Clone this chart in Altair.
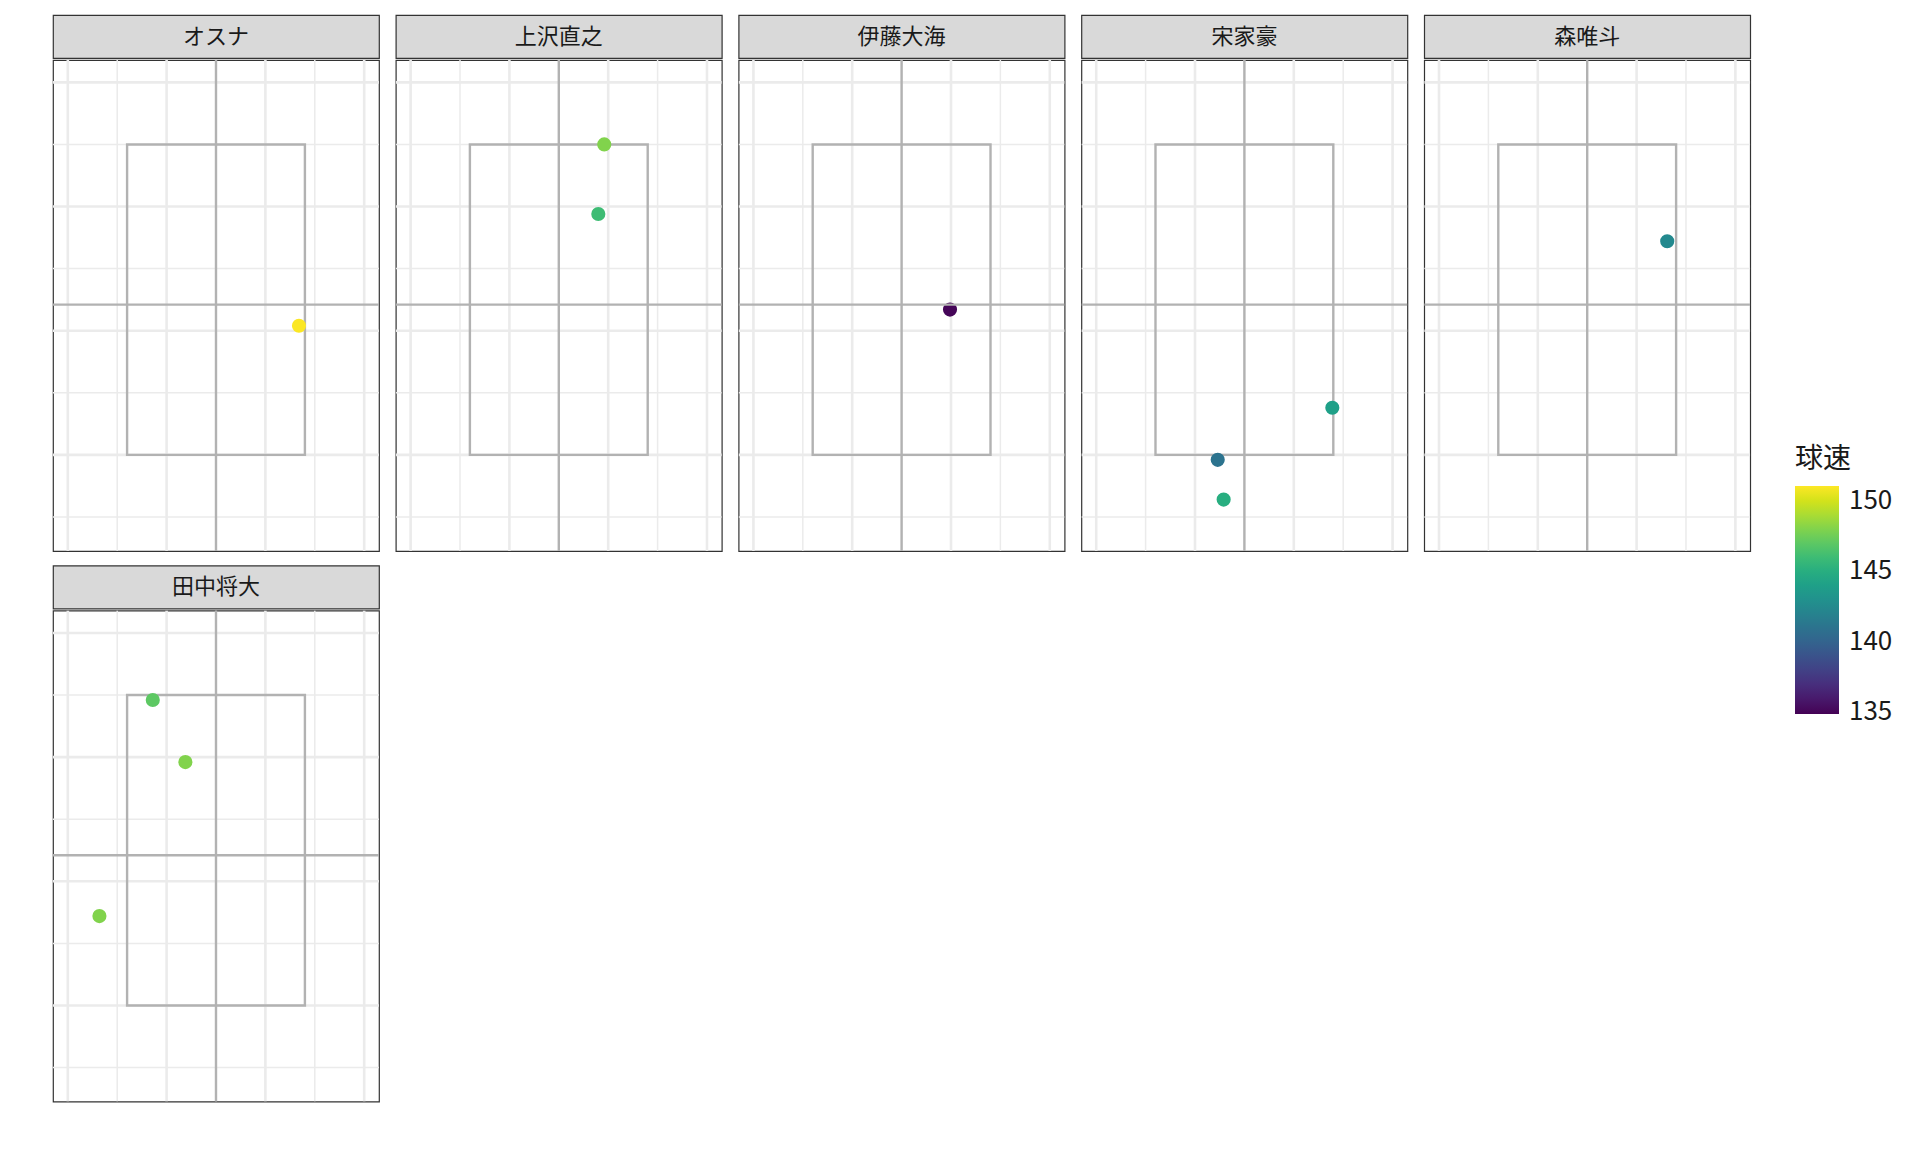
import altair as alt
import pandas as pd

FONT = "Noto Sans CJK JP"

# ---- data ----
pitchers = ["オスナ", "上沢直之", "伊藤大海", "宋家豪", "森唯斗", "田中将大"]

pt_pitcher = ["オスナ", "上沢直之", "上沢直之", "伊藤大海", "宋家豪", "宋家豪", "宋家豪",
              "森唯斗", "田中将大", "田中将大", "田中将大"]
pt_x = [0.84, 0.46, 0.40, 0.49, 0.89, -0.27, -0.21, 0.81, -0.64, -0.31, -1.18]
pt_y = [2.04, 3.50, 2.94, 2.17, 1.38, 0.96, 0.64, 2.72, 3.46, 2.96, 1.72]
pt_speed = [151, 148, 146, 135, 144, 141, 145, 142.5, 147, 148, 148]

x_major = [-1.5, -0.5, 0.5, 1.5]
x_minor = [-1.0, 0.0, 1.0]
y_major = [1.0, 2.0, 3.0, 4.0]
y_minor = [0.5, 1.5, 2.5, 3.5]

zone_x1 = [-0.9]
zone_x2 = [0.9]
zone_y1 = [1.0]
zone_y2 = [3.5]
center_x = [0.0]
center_y = [2.21]

x_domain = [-1.65, 1.65]
y_domain = [0.226, 4.18]
speed_domain = [134.85, 151.05]
speed_ticks = [135, 140, 145, 150]

W = 326
PH = 491
SH = 43

points_df = pd.DataFrame({"pitcher": pt_pitcher, "x": pt_x, "y": pt_y, "球速": pt_speed})
zone_df = pd.DataFrame({"x1": zone_x1, "x2": zone_x2, "y1": zone_y1, "y2": zone_y2})

xs = alt.Scale(domain=x_domain, nice=False, zero=False)
ys = alt.Scale(domain=y_domain, nice=False, zero=False)

GRID = "#EBEBEB"
ZONE = "#B2B2B2"


def vrules(vals, width, color):
    return alt.Chart(pd.DataFrame({"v": vals})).mark_rule(
        color=color, strokeWidth=width, clip=True
    ).encode(x=alt.X("v:Q", scale=xs, axis=None))


def hrules(vals, width, color):
    return alt.Chart(pd.DataFrame({"v": vals})).mark_rule(
        color=color, strokeWidth=width, clip=True
    ).encode(y=alt.Y("v:Q", scale=ys, axis=None))


def panel(name):
    sub = points_df[points_df["pitcher"] == name]
    zone = alt.Chart(zone_df).mark_rect(
        fillOpacity=0, stroke=ZONE, strokeWidth=2.4, clip=True
    ).encode(
        x=alt.X("x1:Q", scale=xs, axis=None),
        x2="x2:Q",
        y=alt.Y("y1:Q", scale=ys, axis=None),
        y2="y2:Q",
    )
    pts = alt.Chart(sub).mark_circle(size=200, opacity=1, clip=True).encode(
        x=alt.X("x:Q", scale=xs, axis=None),
        y=alt.Y("y:Q", scale=ys, axis=None),
        color=alt.Color(
            "球速:Q",
            scale=alt.Scale(scheme="viridis", domain=speed_domain, nice=False, zero=False),
            legend=alt.Legend(
                title="球速",
                orient="none",
                legendX=1742,
                legendY=431,
                values=speed_ticks,
                gradientLength=228,
                gradientThickness=44,
                gradientStrokeWidth=0,
                titleFontSize=28,
                titleFontWeight="normal",
                titleColor="#1a1a1a",
                titleFont=FONT,
                titlePadding=12,
                labelFontSize=26,
                labelColor="#1a1a1a",
                labelFont=FONT,
                labelOffset=10,
                labelOverlap=False,
            ),
        ),
    )
    layer = alt.layer(
        vrules(x_minor, 1.5, GRID),
        vrules(x_major, 2.6, GRID),
        hrules(y_minor, 1.5, GRID),
        hrules(y_major, 2.6, GRID),
        zone,
        pts,
        vrules(center_x, 2.4, ZONE),
        hrules(center_y, 2.4, ZONE),
    ).properties(width=W, height=PH)

    strip = alt.Chart(pd.DataFrame({"name": [name]})).mark_text(
        font=FONT, fontSize=22, color="#1a1a1a"
    ).encode(
        text="name:N", x=alt.value(W / 2), y=alt.value(SH / 2)
    ).properties(
        width=W, height=SH,
        view=alt.ViewBackground(fill="#D9D9D9", stroke="#333333", strokeWidth=1.2),
    )
    return alt.vconcat(strip, layer, spacing=0).resolve_scale(color="shared")


cols = [panel(n) for n in pitchers]
row1 = alt.hconcat(*cols[:5], spacing=14.8).resolve_scale(color="shared")
row2 = alt.hconcat(*cols[5:], spacing=14.8).resolve_scale(color="shared")

chart = alt.vconcat(row1, row2, spacing=12.6).resolve_scale(color="shared").properties(
    padding={"left": 52, "top": 14, "right": 5, "bottom": 5},
    background="white",
).configure(font=FONT).configure_view(stroke="#333333", strokeWidth=1.2, fill="white")

chart.save("out.html", embed_options={"renderer": "svg", "actions": False})
